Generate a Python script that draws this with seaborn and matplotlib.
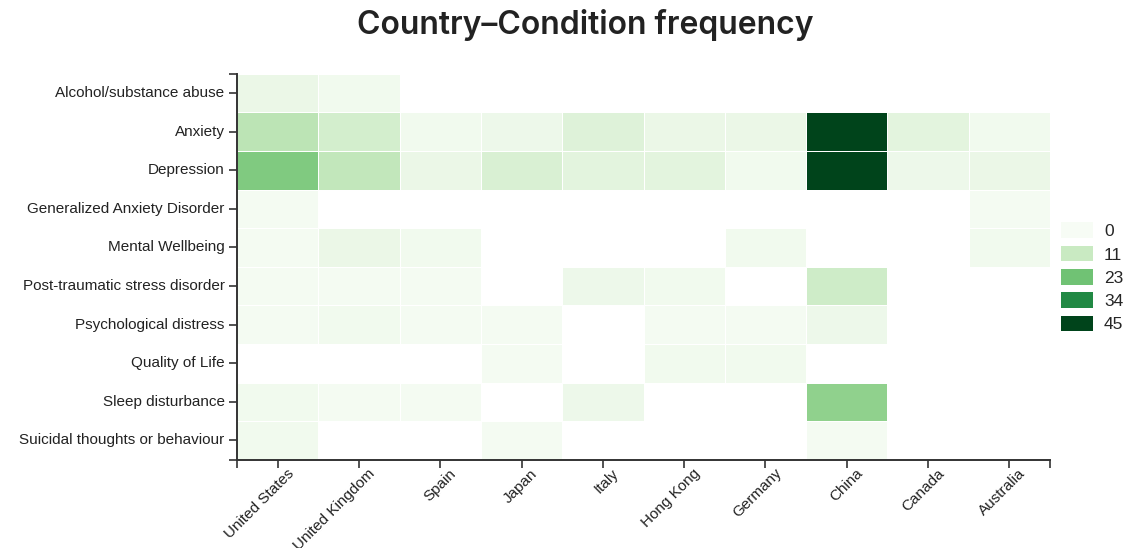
import numpy as np
import pandas as pd
import matplotlib
import matplotlib.pyplot as plt
import matplotlib.transforms as mtrans
from matplotlib.patches import Patch
import seaborn as sns

# ── Data ───────────────────────────────────────────────────────────────────
countries = ["United States", "United Kingdom", "Spain", "Japan", "Italy",
             "Hong Kong", "Germany", "China", "Canada", "Australia"]
conditions = ["Alcohol/substance abuse", "Anxiety", "Depression",
              "Generalized Anxiety Disorder", "Mental Wellbeing",
              "Post-traumatic stress disorder", "Psychological distress",
              "Quality of Life", "Sleep disturbance",
              "Suicidal thoughts or behaviour"]
N = np.nan
# rows = conditions, columns = countries (blank = no studies)
alcohol    = [4, 2, N, N, N, N, N, N, N, N]
anxiety    = [13, 9, 2, 3, 7, 4, 4, 45, 6, 2]
depression = [21, 12, 4, 8, 6, 6, 2, 45, 3, 4]
gad        = [1, N, N, N, N, N, N, N, N, 1]
wellbeing  = [1, 4, 2, N, N, N, 2, N, N, 2]
ptsd       = [1, 1, 1, N, 3, 2, N, 10, N, N]
distress   = [1, 2, 1, 1, N, 1, 1, 3, N, N]
qol        = [N, N, N, 1, N, 2, 2, N, N, N]
sleep      = [2, 1, 1, N, 3, N, N, 19, N, N]
suicidal   = [2, N, N, 1, N, N, N, 1, N, N]
legend_vals = [0, 11, 23, 34, 45]

rows = [alcohol, anxiety, depression, gad, wellbeing,
        ptsd, distress, qol, sleep, suicidal]
df = pd.DataFrame(rows, index=conditions, columns=countries, dtype=float)

# ── Style ──────────────────────────────────────────────────────────────────
sns.set_style("white")
plt.rcParams["font.family"] = ["Liberation Sans", "DejaVu Sans"]
INK = "#333333"

fig = plt.figure(figsize=(11.27, 5.48), dpi=100)
ax = fig.add_axes([0.2103, 0.161, 0.7214, 0.7045])

cmap = matplotlib.colormaps["Greens"]
vmax = 45
sns.heatmap(df, ax=ax, cmap=cmap, vmin=0, vmax=vmax, cbar=False,
            linewidths=0.5, linecolor="white", square=False)

# D3-like axes: left and bottom spines with outer ticks
for side in ["left", "bottom"]:
    ax.spines[side].set_visible(True)
    ax.spines[side].set_color(INK)
    ax.spines[side].set_linewidth(1.4)
for side in ["top", "right"]:
    ax.spines[side].set_visible(False)

ax.set_xticks(np.arange(len(countries)) + 0.5)
ax.set_xticklabels(countries, rotation=45, ha="right",
                   rotation_mode="anchor", fontsize=11, color="#222222")
ax.set_yticks(np.arange(len(conditions)) + 0.5)
ax.set_yticklabels(conditions, rotation=0, fontsize=11, color="#222222")
ax.set_xticks([0, len(countries)], minor=True)
ax.set_yticks([0, len(conditions)], minor=True)
ax.tick_params(axis="both", which="both", length=6, width=1.2,
               color=INK, left=True, bottom=True)
ax.tick_params(axis="both", which="major", pad=3)
ax.set_xlabel("")
ax.set_ylabel("")

# nudge rotated labels like the d3 original
shift = mtrans.ScaledTranslation(9 / 100, 6 / 100, fig.dpi_scale_trans)
for lbl in ax.get_xticklabels():
    lbl.set_transform(lbl.get_transform() + shift)

fig.text(0.519, 0.955, "Country\u2013Condition frequency", ha="center",
         va="center", fontsize=23, color="#222222",
         family=["Inter", "DejaVu Sans"], fontweight="semibold")

# discrete legend
handles = [Patch(facecolor=cmap(v / vmax), edgecolor="none") for v in legend_vals]
fig.legend(handles, [str(v) for v in legend_vals], loc="upper left",
           bbox_to_anchor=(0.941, 0.594), frameon=False, fontsize=12.5,
           handlelength=1.9, handleheight=1.0, labelspacing=0.38,
           handletextpad=0.6, borderaxespad=0, borderpad=0)

fig.savefig("out.png", dpi=100, facecolor="white")
